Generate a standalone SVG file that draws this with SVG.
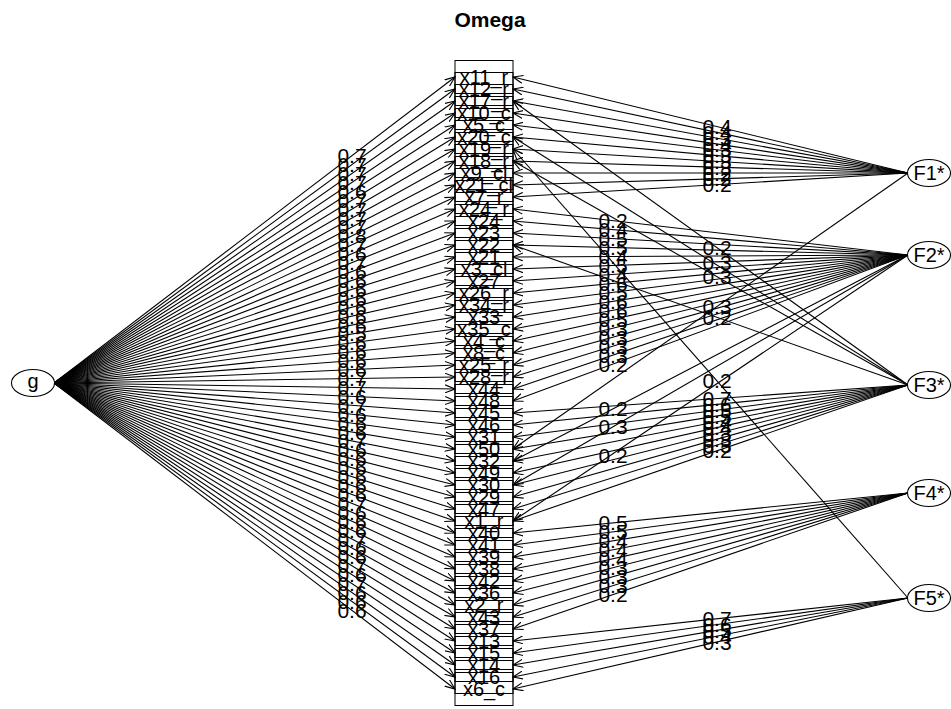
<svg xmlns="http://www.w3.org/2000/svg" width="951" height="709" viewBox="0 0 951 709">
<style>
text{font-family:"Liberation Sans",Arial,sans-serif;fill:#000}
.t{font-size:21px;font-weight:bold;text-anchor:middle}
.v rect{fill:none;stroke:#000;stroke-width:1}
.v text{font-size:20px;text-anchor:middle;dominant-baseline:central}
.n text{font-size:20px;text-anchor:middle;dominant-baseline:central}
.n ellipse{fill:#fff;stroke:#000;stroke-width:1.1}
#connectors line{stroke:#000;stroke-width:1.1;marker-end:url(#ah)}
#labels text{font-size:21px;text-anchor:middle;dominant-baseline:central}
</style>
<defs>
<marker id="ah" markerUnits="userSpaceOnUse" markerWidth="11" markerHeight="9" refX="10" refY="4.5" orient="auto">
<path d="M0,0.5 L10,4.5 L0,8.5" fill="none" stroke="#000" stroke-width="1.1"/>
</marker>
</defs>
<rect width="951" height="709" fill="#fff"/>
<text class="t" x="490" y="27">Omega</text>

<g id="connectors">
<line x1="54" y1="383" x2="455" y2="77"/>
<line x1="54" y1="383" x2="455" y2="89"/>
<line x1="54" y1="383" x2="455" y2="101"/>
<line x1="54" y1="383" x2="455" y2="113"/>
<line x1="54" y1="383" x2="455" y2="125"/>
<line x1="54" y1="383" x2="455" y2="137"/>
<line x1="54" y1="383" x2="455" y2="149"/>
<line x1="54" y1="383" x2="455" y2="161"/>
<line x1="54" y1="383" x2="455" y2="173"/>
<line x1="54" y1="383" x2="455" y2="185"/>
<line x1="54" y1="383" x2="455" y2="197"/>
<line x1="54" y1="383" x2="455" y2="209"/>
<line x1="54" y1="383" x2="455" y2="221"/>
<line x1="54" y1="383" x2="455" y2="233"/>
<line x1="54" y1="383" x2="455" y2="245"/>
<line x1="54" y1="383" x2="455" y2="257"/>
<line x1="54" y1="383" x2="455" y2="269"/>
<line x1="54" y1="383" x2="455" y2="281"/>
<line x1="54" y1="383" x2="455" y2="293"/>
<line x1="54" y1="383" x2="455" y2="305"/>
<line x1="54" y1="383" x2="455" y2="317"/>
<line x1="54" y1="383" x2="455" y2="329"/>
<line x1="54" y1="383" x2="455" y2="341"/>
<line x1="54" y1="383" x2="455" y2="353"/>
<line x1="54" y1="383" x2="455" y2="365"/>
<line x1="54" y1="383" x2="455" y2="377"/>
<line x1="54" y1="383" x2="455" y2="389"/>
<line x1="54" y1="383" x2="455" y2="401"/>
<line x1="54" y1="383" x2="455" y2="413"/>
<line x1="54" y1="383" x2="455" y2="425"/>
<line x1="54" y1="383" x2="455" y2="437"/>
<line x1="54" y1="383" x2="455" y2="449"/>
<line x1="54" y1="383" x2="455" y2="461"/>
<line x1="54" y1="383" x2="455" y2="473"/>
<line x1="54" y1="383" x2="455" y2="485"/>
<line x1="54" y1="383" x2="455" y2="497"/>
<line x1="54" y1="383" x2="455" y2="509"/>
<line x1="54" y1="383" x2="455" y2="521"/>
<line x1="54" y1="383" x2="455" y2="533"/>
<line x1="54" y1="383" x2="455" y2="545"/>
<line x1="54" y1="383" x2="455" y2="557"/>
<line x1="54" y1="383" x2="455" y2="569"/>
<line x1="54" y1="383" x2="455" y2="581"/>
<line x1="54" y1="383" x2="455" y2="593"/>
<line x1="54" y1="383" x2="455" y2="605"/>
<line x1="54" y1="383" x2="455" y2="617"/>
<line x1="54" y1="383" x2="455" y2="629"/>
<line x1="54" y1="383" x2="455" y2="641"/>
<line x1="54" y1="383" x2="455" y2="653"/>
<line x1="54" y1="383" x2="455" y2="665"/>
<line x1="54" y1="383" x2="455" y2="677"/>
<line x1="54" y1="383" x2="455" y2="689"/>

<line x1="908" y1="173" x2="513" y2="77"/>
<line x1="908" y1="173" x2="513" y2="89"/>
<line x1="908" y1="173" x2="513" y2="101"/>
<line x1="908" y1="173" x2="513" y2="113"/>
<line x1="908" y1="173" x2="513" y2="125"/>
<line x1="908" y1="173" x2="513" y2="137"/>
<line x1="908" y1="173" x2="513" y2="149"/>
<line x1="908" y1="173" x2="513" y2="161"/>
<line x1="908" y1="173" x2="513" y2="173"/>
<line x1="908" y1="173" x2="513" y2="185"/>
<line x1="908" y1="173" x2="513" y2="197"/>

<line x1="908" y1="255" x2="513" y2="209"/>
<line x1="908" y1="255" x2="513" y2="221"/>
<line x1="908" y1="255" x2="513" y2="233"/>
<line x1="908" y1="255" x2="513" y2="245"/>
<line x1="908" y1="255" x2="513" y2="257"/>
<line x1="908" y1="255" x2="513" y2="269"/>
<line x1="908" y1="255" x2="513" y2="281"/>
<line x1="908" y1="255" x2="513" y2="293"/>
<line x1="908" y1="255" x2="513" y2="305"/>
<line x1="908" y1="255" x2="513" y2="317"/>
<line x1="908" y1="255" x2="513" y2="329"/>
<line x1="908" y1="255" x2="513" y2="341"/>
<line x1="908" y1="255" x2="513" y2="353"/>
<line x1="908" y1="255" x2="513" y2="365"/>
<line x1="908" y1="255" x2="513" y2="377"/>
<line x1="908" y1="255" x2="513" y2="389"/>
<line x1="908" y1="255" x2="513" y2="401"/>

<line x1="908" y1="385" x2="513" y2="413"/>
<line x1="908" y1="385" x2="513" y2="425"/>
<line x1="908" y1="385" x2="513" y2="437"/>
<line x1="908" y1="385" x2="513" y2="449"/>
<line x1="908" y1="385" x2="513" y2="461"/>
<line x1="908" y1="385" x2="513" y2="473"/>
<line x1="908" y1="385" x2="513" y2="485"/>
<line x1="908" y1="385" x2="513" y2="497"/>
<line x1="908" y1="385" x2="513" y2="509"/>
<line x1="908" y1="385" x2="513" y2="521"/>

<line x1="908" y1="493" x2="513" y2="533"/>
<line x1="908" y1="493" x2="513" y2="545"/>
<line x1="908" y1="493" x2="513" y2="557"/>
<line x1="908" y1="493" x2="513" y2="569"/>
<line x1="908" y1="493" x2="513" y2="581"/>
<line x1="908" y1="493" x2="513" y2="593"/>
<line x1="908" y1="493" x2="513" y2="605"/>
<line x1="908" y1="493" x2="513" y2="617"/>
<line x1="908" y1="493" x2="513" y2="629"/>

<line x1="908" y1="598" x2="513" y2="641"/>
<line x1="908" y1="598" x2="513" y2="653"/>
<line x1="908" y1="598" x2="513" y2="665"/>
<line x1="908" y1="598" x2="513" y2="677"/>
<line x1="908" y1="598" x2="513" y2="689"/>

<line x1="908" y1="385" x2="513" y2="101"/>
<line x1="908" y1="385" x2="513" y2="137"/>
<line x1="908" y1="385" x2="513" y2="161"/>
<line x1="908" y1="598" x2="513" y2="149"/>
<line x1="908" y1="173" x2="513" y2="449"/>
<line x1="908" y1="385" x2="513" y2="245"/>
<line x1="908" y1="255" x2="513" y2="461"/>
<line x1="908" y1="255" x2="513" y2="485"/>
<line x1="908" y1="255" x2="513" y2="521"/>
</g>

<g id="labels">
<text x="352" y="155.6">0.7</text>
<text x="352" y="164.5">0.7</text>
<text x="352" y="173.4">0.7</text>
<text x="352" y="182.3">0.7</text>
<text x="352" y="191.3">0.6</text>
<text x="352" y="200.2">0.7</text>
<text x="352" y="209.1">0.7</text>
<text x="352" y="218.0">0.7</text>
<text x="352" y="226.9">0.7</text>
<text x="352" y="235.8">0.8</text>
<text x="352" y="244.8">0.7</text>
<text x="352" y="253.7">0.6</text>
<text x="352" y="262.6">0.7</text>
<text x="352" y="271.5">0.6</text>
<text x="352" y="280.4">0.6</text>
<text x="352" y="289.3">0.6</text>
<text x="352" y="298.3">0.6</text>
<text x="352" y="307.2">0.6</text>
<text x="352" y="316.1">0.6</text>
<text x="352" y="325.0">0.6</text>
<text x="352" y="333.9">0.5</text>
<text x="352" y="342.8">0.6</text>
<text x="352" y="351.8">0.6</text>
<text x="352" y="360.7">0.6</text>
<text x="352" y="369.6">0.6</text>
<text x="352" y="378.5">0.7</text>
<text x="352" y="387.4">0.7</text>
<text x="352" y="396.3">0.6</text>
<text x="352" y="405.2">0.7</text>
<text x="352" y="414.2">0.6</text>
<text x="352" y="423.1">0.6</text>
<text x="352" y="432.0">0.6</text>
<text x="352" y="440.9">0.7</text>
<text x="352" y="449.8">0.6</text>
<text x="352" y="458.7">0.6</text>
<text x="352" y="467.7">0.6</text>
<text x="352" y="476.6">0.6</text>
<text x="352" y="485.5">0.6</text>
<text x="352" y="494.4">0.6</text>
<text x="352" y="503.3">0.7</text>
<text x="352" y="512.2">0.6</text>
<text x="352" y="521.2">0.6</text>
<text x="352" y="530.1">0.6</text>
<text x="352" y="539.0">0.7</text>
<text x="352" y="547.9">0.6</text>
<text x="352" y="556.8">0.6</text>
<text x="352" y="565.7">0.7</text>
<text x="352" y="574.7">0.6</text>
<text x="352" y="583.6">0.7</text>
<text x="352" y="592.5">0.6</text>
<text x="352" y="601.4">0.6</text>
<text x="352" y="610.3">0.6</text>

<text x="717" y="126.5">0.4</text>
<text x="717" y="132.3">0.4</text>
<text x="717" y="138.2">0.3</text>
<text x="717" y="144.0">0.4</text>
<text x="717" y="149.8">0.3</text>
<text x="717" y="155.6">0.3</text>
<text x="717" y="161.4">0.3</text>
<text x="717" y="167.2">0.3</text>
<text x="717" y="173.0">0.2</text>
<text x="717" y="178.8">0.2</text>
<text x="717" y="184.6">0.2</text>

<text x="613" y="220.6">0.2</text>
<text x="613" y="229.6">0.4</text>
<text x="613" y="238.6">0.5</text>
<text x="613" y="247.5">0.5</text>
<text x="613" y="256.5">0.4</text>
<text x="613" y="265.5">0.5</text>
<text x="613" y="274.4">0.4</text>
<text x="613" y="283.4">0.6</text>
<text x="613" y="292.3">0.5</text>
<text x="613" y="301.3">0.6</text>
<text x="613" y="310.3">0.6</text>
<text x="613" y="319.2">0.5</text>
<text x="613" y="328.2">0.3</text>
<text x="613" y="337.2">0.3</text>
<text x="613" y="346.1">0.3</text>
<text x="613" y="355.1">0.3</text>
<text x="613" y="364.1">0.2</text>

<text x="717" y="398.6">0.7</text>
<text x="717" y="404.4">0.6</text>
<text x="717" y="410.2">0.5</text>
<text x="717" y="416.0">0.5</text>
<text x="717" y="421.8">0.4</text>
<text x="717" y="427.6">0.4</text>
<text x="717" y="433.4">0.3</text>
<text x="717" y="439.2">0.3</text>
<text x="717" y="445.0">0.3</text>
<text x="717" y="450.8">0.2</text>

<text x="613" y="522.9">0.5</text>
<text x="613" y="531.8">0.5</text>
<text x="613" y="540.8">0.4</text>
<text x="613" y="549.8">0.4</text>
<text x="613" y="558.7">0.4</text>
<text x="613" y="567.7">0.3</text>
<text x="613" y="576.7">0.3</text>
<text x="613" y="585.6">0.3</text>
<text x="613" y="594.6">0.2</text>

<text x="717" y="618.8">0.7</text>
<text x="717" y="624.6">0.6</text>
<text x="717" y="630.4">0.5</text>
<text x="717" y="636.2">0.4</text>
<text x="717" y="642.0">0.3</text>

<text x="717" y="247.5">0.2</text>
<text x="717" y="262.0">0.3</text>
<text x="717" y="276.6">0.3</text>
<text x="717" y="380.7">0.2</text>
<text x="717" y="306.6">0.3</text>
<text x="717" y="317.2">0.2</text>
<text x="613" y="408.9">0.2</text>
<text x="613" y="426.8">0.3</text>
<text x="613" y="455.7">0.2</text>
</g>

<g id="vars">
<g id="var-x11_r" class="v"><rect x="455" y="60.5" width="58" height="33"/><text x="484" y="77">x11_r</text></g>
<g id="var-x12_r" class="v"><rect x="455" y="72.5" width="58" height="33"/><text x="484" y="89">x12_r</text></g>
<g id="var-x17_r" class="v"><rect x="455" y="84.5" width="58" height="33"/><text x="484" y="101">x17_r</text></g>
<g id="var-x10_c" class="v"><rect x="455" y="96.5" width="58" height="33"/><text x="484" y="113">x10_c</text></g>
<g id="var-x5_c" class="v"><rect x="455" y="108.5" width="58" height="33"/><text x="484" y="125">x5_c</text></g>
<g id="var-x20_c" class="v"><rect x="455" y="120.5" width="58" height="33"/><text x="484" y="137">x20_c</text></g>
<g id="var-x19_r" class="v"><rect x="455" y="132.5" width="58" height="33"/><text x="484" y="149">x19_r</text></g>
<g id="var-x18_r" class="v"><rect x="455" y="144.5" width="58" height="33"/><text x="484" y="161">x18_r</text></g>
<g id="var-x9_cl" class="v"><rect x="455" y="156.5" width="58" height="33"/><text x="484" y="173">x9_cl</text></g>
<g id="var-x21_cl" class="v"><rect x="455" y="168.5" width="58" height="33"/><text x="484" y="185">x21_cl</text></g>
<g id="var-x7_r" class="v"><rect x="455" y="180.5" width="58" height="33"/><text x="484" y="197">x7_r</text></g>
<g id="var-x24_r" class="v"><rect x="455" y="192.5" width="58" height="33"/><text x="484" y="209">x24_r</text></g>
<g id="var-x24" class="v"><rect x="455" y="204.5" width="58" height="33"/><text x="484" y="221">x24</text></g>
<g id="var-x23" class="v"><rect x="455" y="216.5" width="58" height="33"/><text x="484" y="233">x23</text></g>
<g id="var-x22" class="v"><rect x="455" y="228.5" width="58" height="33"/><text x="484" y="245">x22</text></g>
<g id="var-x21" class="v"><rect x="455" y="240.5" width="58" height="33"/><text x="484" y="257">x21</text></g>
<g id="var-x3_cl" class="v"><rect x="455" y="252.5" width="58" height="33"/><text x="484" y="269">x3_cl</text></g>
<g id="var-x27" class="v"><rect x="455" y="264.5" width="58" height="33"/><text x="484" y="281">x27</text></g>
<g id="var-x26_r" class="v"><rect x="455" y="276.5" width="58" height="33"/><text x="484" y="293">x26_r</text></g>
<g id="var-x34_r" class="v"><rect x="455" y="288.5" width="58" height="33"/><text x="484" y="305">x34_r</text></g>
<g id="var-x33" class="v"><rect x="455" y="300.5" width="58" height="33"/><text x="484" y="317">x33</text></g>
<g id="var-x35_c" class="v"><rect x="455" y="312.5" width="58" height="33"/><text x="484" y="329">x35_c</text></g>
<g id="var-x4_c" class="v"><rect x="455" y="324.5" width="58" height="33"/><text x="484" y="341">x4_c</text></g>
<g id="var-x8_c" class="v"><rect x="455" y="336.5" width="58" height="33"/><text x="484" y="353">x8_c</text></g>
<g id="var-x25_r" class="v"><rect x="455" y="348.5" width="58" height="33"/><text x="484" y="365">x25_r</text></g>
<g id="var-x28_r" class="v"><rect x="455" y="360.5" width="58" height="33"/><text x="484" y="377">x28_r</text></g>
<g id="var-x44" class="v"><rect x="455" y="372.5" width="58" height="33"/><text x="484" y="389">x44</text></g>
<g id="var-x48" class="v"><rect x="455" y="384.5" width="58" height="33"/><text x="484" y="401">x48</text></g>
<g id="var-x45" class="v"><rect x="455" y="396.5" width="58" height="33"/><text x="484" y="413">x45</text></g>
<g id="var-x46" class="v"><rect x="455" y="408.5" width="58" height="33"/><text x="484" y="425">x46</text></g>
<g id="var-x31" class="v"><rect x="455" y="420.5" width="58" height="33"/><text x="484" y="437">x31</text></g>
<g id="var-x50" class="v"><rect x="455" y="432.5" width="58" height="33"/><text x="484" y="449">x50</text></g>
<g id="var-x32" class="v"><rect x="455" y="444.5" width="58" height="33"/><text x="484" y="461">x32</text></g>
<g id="var-x49" class="v"><rect x="455" y="456.5" width="58" height="33"/><text x="484" y="473">x49</text></g>
<g id="var-x30" class="v"><rect x="455" y="468.5" width="58" height="33"/><text x="484" y="485">x30</text></g>
<g id="var-x29" class="v"><rect x="455" y="480.5" width="58" height="33"/><text x="484" y="497">x29</text></g>
<g id="var-x47" class="v"><rect x="455" y="492.5" width="58" height="33"/><text x="484" y="509">x47</text></g>
<g id="var-x1_r" class="v"><rect x="455" y="504.5" width="58" height="33"/><text x="484" y="521">x1_r</text></g>
<g id="var-x40" class="v"><rect x="455" y="516.5" width="58" height="33"/><text x="484" y="533">x40</text></g>
<g id="var-x41" class="v"><rect x="455" y="528.5" width="58" height="33"/><text x="484" y="545">x41</text></g>
<g id="var-x39" class="v"><rect x="455" y="540.5" width="58" height="33"/><text x="484" y="557">x39</text></g>
<g id="var-x38" class="v"><rect x="455" y="552.5" width="58" height="33"/><text x="484" y="569">x38</text></g>
<g id="var-x42" class="v"><rect x="455" y="564.5" width="58" height="33"/><text x="484" y="581">x42</text></g>
<g id="var-x36" class="v"><rect x="455" y="576.5" width="58" height="33"/><text x="484" y="593">x36</text></g>
<g id="var-x2_r" class="v"><rect x="455" y="588.5" width="58" height="33"/><text x="484" y="605">x2_r</text></g>
<g id="var-x43" class="v"><rect x="455" y="600.5" width="58" height="33"/><text x="484" y="617">x43</text></g>
<g id="var-x37" class="v"><rect x="455" y="612.5" width="58" height="33"/><text x="484" y="629">x37</text></g>
<g id="var-x13" class="v"><rect x="455" y="624.5" width="58" height="33"/><text x="484" y="641">x13</text></g>
<g id="var-x15" class="v"><rect x="455" y="636.5" width="58" height="33"/><text x="484" y="653">x15</text></g>
<g id="var-x14" class="v"><rect x="455" y="648.5" width="58" height="33"/><text x="484" y="665">x14</text></g>
<g id="var-x16" class="v"><rect x="455" y="660.5" width="58" height="33"/><text x="484" y="677">x16</text></g>
<g id="var-x6_c" class="v"><rect x="455" y="672.5" width="58" height="33"/><text x="484" y="689">x6_c</text></g>
</g>

<g id="node-g" class="n"><ellipse cx="33" cy="383" rx="21.5" ry="13.5"/><text x="33" y="381">g</text></g>
<g id="node-F1" class="n"><ellipse cx="929" cy="173" rx="21.5" ry="13.5"/><text x="929" y="173">F1*</text></g>
<g id="node-F2" class="n"><ellipse cx="929" cy="255" rx="21.5" ry="13.5"/><text x="929" y="255">F2*</text></g>
<g id="node-F3" class="n"><ellipse cx="929" cy="385" rx="21.5" ry="13.5"/><text x="929" y="385">F3*</text></g>
<g id="node-F4" class="n"><ellipse cx="929" cy="493" rx="21.5" ry="13.5"/><text x="929" y="493">F4*</text></g>
<g id="node-F5" class="n"><ellipse cx="929" cy="598" rx="21.5" ry="13.5"/><text x="929" y="598">F5*</text></g>
</svg>
